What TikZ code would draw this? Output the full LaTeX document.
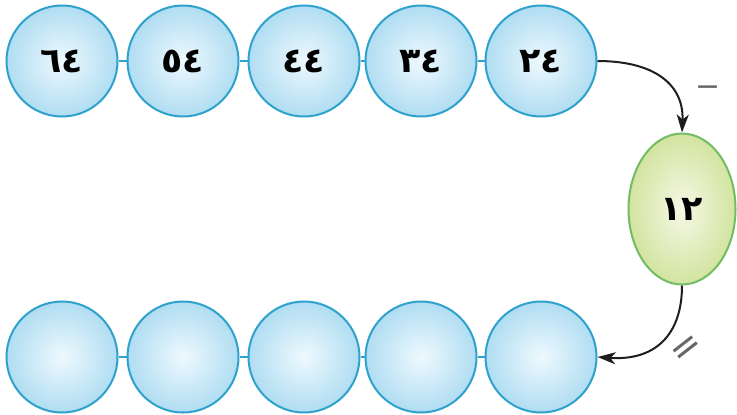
\documentclass[tikz,border=0pt]{standalone}
\usepackage{fontspec}
\newfontfamily\arabicfont[Script=Arabic]{DejaVu Sans}
\newfontfamily\signfont{DejaVu Sans}
\usetikzlibrary{shapes.geometric,arrows.meta}
\definecolor{ballin}{HTML}{EEF9FE}
\definecolor{ballout}{HTML}{B0DDF2}
\definecolor{balledge}{HTML}{2EA2CC}
\definecolor{eggin}{HTML}{F6F8E6}
\definecolor{eggout}{HTML}{D2E4A0}
\definecolor{eggedge}{HTML}{72BC64}
\definecolor{arrowcol}{HTML}{1E1E1E}
\tikzset{
  ball/.style={circle, draw=balledge, line width=2bp, minimum size=111bp, inner sep=0pt,
    shading=radial, inner color=ballin, outer color=ballout,
    font=\arabicfont\bfseries\fontsize{35}{37}\selectfont},
  egg/.style={ellipse, draw=eggedge, line width=2bp, minimum width=107bp, minimum height=151bp,
    inner sep=0pt, shading=radial, inner color=eggin, outer color=eggout,
    font=\arabicfont\bfseries\fontsize{35}{37}\selectfont},
  link/.style={draw=balledge, line width=1.5bp},
  flow/.style={draw=arrowcol, line width=2bp, -{Stealth[length=18bp,width=12bp,inset=5bp]}},
  sign/.style={text=black!60, inner sep=0pt, font=\signfont\fontsize{30}{32}\selectfont}
}
\begin{document}
\begin{tikzpicture}[x=1bp,y=-1bp]
\useasboundingbox (0,0) rectangle (737,414);
% top row
\node[ball] (t1) at (62,61) {٦٤};
\node[ball] (t2) at (183,61) {٥٤};
\node[ball] (t3) at (304,61) {٤٤};
\node[ball] (t4) at (421,61) {٣٤};
\node[ball] (t5) at (541,61) {٢٤};
% bottom row
\node[ball] (b1) at (62,357) {};
\node[ball] (b2) at (183,357) {};
\node[ball] (b3) at (304,357) {};
\node[ball] (b4) at (421,357) {};
\node[ball] (b5) at (541,357) {};
% links
\draw[link] (t1.east) -- (t2.west);
\draw[link] (t2.east) -- (t3.west);
\draw[link] (t3.east) -- (t4.west);
\draw[link] (t4.east) -- (t5.west);
\draw[link] (b1.east) -- (b2.west);
\draw[link] (b2.east) -- (b3.west);
\draw[link] (b3.east) -- (b4.west);
\draw[link] (b4.east) -- (b5.west);
% egg
\node[egg] (e) at (682,209) {١٢};
% arrows
\draw[flow] (t5.east) .. controls (655,61) and (684,85) .. (e.north);
\draw[flow] (e.south) .. controls (682,335) and (655,361) .. (b5.east);
% labels
\node[sign, anchor=base] (minus) at (708,96) {−};
\node[sign, rotate=38, font=\signfont\fontsize{38}{40}\selectfont] (eq) at (688,350) {=};
\end{tikzpicture}
\end{document}
